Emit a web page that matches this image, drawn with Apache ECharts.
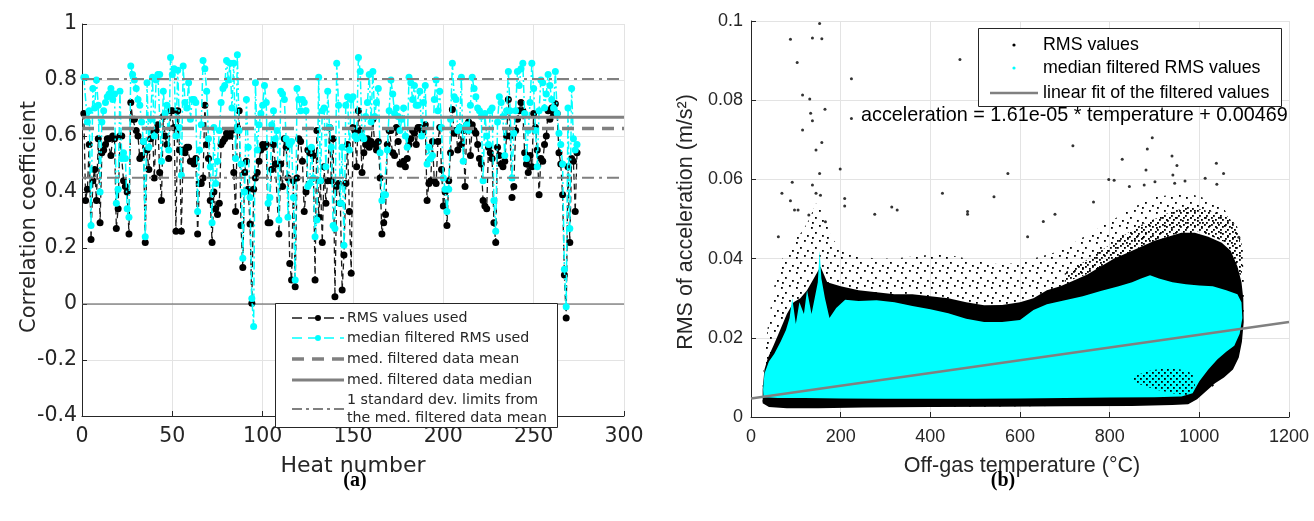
<!DOCTYPE html>
<html><head><meta charset="utf-8">
<script src="https://cdn.jsdelivr.net/npm/echarts@6/dist/echarts.min.js"></script>
<style>html,body{margin:0;padding:0;background:#fff}#c{width:1314px;height:521px}</style>
</head><body><div id="c"></div>
<script>
// ---------- Panel (a): correlation coefficient per heat ----------
const rmsUsed = [
0.68,0.37,0.41,0.57,0.23,0.44,0.48,0.37,0.59,0.29,
0.54,0.55,0.57,0.59,0.59,0.53,0.60,0.59,0.27,0.34,
0.60,0.60,0.44,0.42,0.40,0.25,0.72,0.66,0.66,0.62,
0.60,0.52,0.53,0.58,0.22,0.55,0.48,0.59,0.62,0.45,
0.62,0.64,0.47,0.37,0.67,0.60,0.57,0.52,0.69,0.69,
0.63,0.26,0.69,0.55,0.26,0.55,0.54,0.56,0.56,0.51,
0.51,0.50,0.52,0.25,0.43,0.43,0.45,0.71,0.57,0.52,
0.37,0.22,0.40,0.34,0.32,0.36,0.57,0.58,0.59,0.61,
0.60,0.60,0.62,0.47,0.33,0.63,0.69,0.28,0.13,0.47,
0.51,0.41,0.286,0.003,0.41,0.45,0.47,0.51,0.55,0.57,
0.56,0.57,0.29,0.29,0.48,0.57,0.50,0.50,
0.25,0.50,0.42,0.59,0.56,0.45,0.145,0.086,0.44,0.062,0.45,0.59,
0.58,0.51,0.33,0.40,0.55,0.54,0.55,0.53,0.086,0.62,
0.31,0.44,0.22,0.49,0.36,0.44,0.63,0.44,0.59,0.026,
0.42,0.43,0.36,0.05,0.175,0.43,0.57,0.33,0.11,0.63,
0.62,0.49,0.69,0.62,0.47,0.54,0.57,0.59,0.56,0.58,
0.66,0.57,0.55,
0.58,0.45,0.25,0.29,0.32,0.57,0.62,
0.62,0.54,0.53,0.63,0.58,0.50,0.50,0.51,0.49,0.52,
0.57,0.59,0.62,0.61,0.57,0.63,0.63,
0.62,0.63,0.64,0.37,0.43,0.44,0.58,0.44,0.43,0.58,0.63,0.48,0.35,
0.40,0.28,0.44,0.54,0.695,0.61,0.62,0.55,0.63,0.57,0.62,0.42,0.64,0.65,0.53,
0.64,0.62,0.61,0.57,0.52,0.50,0.37,0.35,0.34,0.56,0.54,0.52,0.29,0.22,0.56,
0.53,0.50,0.49,0.51,0.60,0.73,0.60,0.38,0.42,0.62,0.66,0.69,0.72,0.69,0.54,
0.50,0.47,0.53,0.49,0.68,0.63,0.55,0.39,0.52,0.51,0.57,0.60,0.69,0.66,0.70,
0.68,0.715,0.68,0.54,0.50,0.39,0.104,-0.05,0.49,0.22,0.52,0.51,0.33,0.54
];
const medFiltered = [
0.81,0.81,0.65,0.69,0.28,0.77,0.70,0.80,0.71,0.40,
0.65,0.69,0.72,0.74,0.75,0.77,0.73,0.75,0.36,0.41,
0.76,0.52,0.54,0.52,0.34,0.31,0.85,0.82,0.80,0.77,
0.73,0.71,0.65,0.58,0.24,0.79,0.56,0.66,0.81,0.60,
0.80,0.82,0.82,0.51,0.76,0.68,0.71,0.55,0.88,0.82,
0.84,0.60,0.835,0.63,0.46,0.85,0.72,0.70,0.79,0.66,
0.73,0.73,0.72,0.33,0.55,0.64,0.87,0.84,0.76,0.59,
0.49,0.29,0.63,0.43,0.51,0.62,0.72,0.77,0.78,0.87,
0.80,0.86,0.70,0.86,0.52,0.89,0.62,0.50,0.163,0.40,
0.73,0.56,0.38,0.02,-0.08,0.79,0.55,0.64,0.68,0.71,
0.78,0.72,0.36,0.38,0.64,0.69,0.59,0.62,
0.30,0.76,0.75,0.73,0.59,0.31,0.57,0.58,0.38,0.086,0.77,0.73,
0.69,0.73,0.72,0.69,0.42,0.43,0.56,0.45,0.24,0.30,
0.81,0.44,0.69,0.70,0.49,0.76,0.63,0.56,0.28,0.27,
0.86,0.71,0.36,0.56,0.21,0.71,0.74,0.55,0.73,0.74,
0.60,0.59,0.88,0.83,0.60,0.59,0.67,0.72,0.82,0.65,
0.83,0.67,0.72,
0.77,0.54,0.37,0.39,0.39,0.55,0.69,
0.80,0.75,0.68,0.70,0.67,0.62,0.66,0.70,0.60,0.56,
0.81,0.79,0.73,0.78,0.71,0.71,0.76,
0.60,0.72,0.78,0.50,0.56,0.52,0.53,0.73,0.80,0.69,0.76,0.63,0.45,
0.41,0.33,0.41,0.66,0.86,0.74,0.73,0.62,0.63,0.81,0.51,0.63,0.64,0.62,0.71,
0.81,0.77,0.74,0.70,0.69,0.67,0.44,0.68,0.60,0.57,0.69,0.70,0.37,0.26,0.65,
0.74,0.72,0.67,0.53,0.69,0.83,0.69,0.45,0.61,0.69,0.83,0.78,0.84,0.86,0.68,
0.52,0.62,0.72,0.86,0.77,0.62,0.49,0.69,0.80,0.79,0.70,0.75,0.82,0.78,0.73,
0.70,0.83,0.68,0.61,0.57,0.50,0.124,-0.01,0.70,0.27,0.77,0.59,0.55,0.57
];
const refMean = 0.627;
const refMedian = 0.667;
const refUpper = 0.804;
const refLower = 0.451;
const legendA = ["RMS values used", "median filtered RMS used", "med. filtered data mean", "med. filtered data median", "1 standard dev. limits from", "the med. filtered data mean"];

// ---------- Panel (b): RMS vs off-gas temperature ----------
// envelopes of the dense point clouds: [temperature, rms]
const cyanCloud = [[28,0.0050],[60,0.0048],[120,0.0048],[200,0.0047],[300,0.0046],[400,0.0046],[500,0.0046],[600,0.0047],[700,0.0048],[800,0.0049],[900,0.0050],[960,0.0052],[985,0.0060],[1000,0.0090],[1020,0.0120],[1040,0.0145],[1060,0.0165],[1078,0.0180],[1090,0.0210],[1096,0.0250],[1094,0.0290],[1085,0.0310],[1060,0.0320],[1030,0.0330],[1000,0.0332],[970,0.0335],[940,0.0340],[910,0.0350],[890,0.0358],[870,0.0350],[850,0.0340],[820,0.0330],[780,0.0318],[740,0.0305],[700,0.0295],[660,0.0285],[630,0.0270],[600,0.0245],[560,0.0240],[520,0.0240],[480,0.0248],[440,0.0262],[400,0.0272],[360,0.0280],[320,0.0290],[280,0.0295],[240,0.0293],[210,0.0296],[190,0.0275],[175,0.0250],[165,0.0300],[157,0.0350],[153,0.0420],[149,0.0340],[142,0.0300],[135,0.0260],[125,0.0320],[118,0.0260],[108,0.0290],[100,0.0235],[92,0.0300],[86,0.0250],[78,0.0220],[66,0.0190],[52,0.0160],[40,0.0140],[30,0.0110],[27,0.0070]];
const blackCore = [[26,0.0035],[40,0.0025],[80,0.0022],[150,0.0022],[250,0.0024],[400,0.0025],[550,0.0026],[700,0.0027],[850,0.0028],[940,0.0030],[975,0.0032],[995,0.0045],[1015,0.0065],[1035,0.0085],[1055,0.0100],[1075,0.0120],[1088,0.0150],[1095,0.0190],[1099,0.0240],[1098,0.0300],[1094,0.0340],[1085,0.0380],[1070,0.0420],[1050,0.0440],[1020,0.0455],[990,0.0465],[960,0.0465],[930,0.0455],[900,0.0445],[870,0.0430],[840,0.0415],[810,0.0400],[780,0.0380],[750,0.0360],[720,0.0345],[690,0.0330],[660,0.0320],[630,0.0300],[600,0.0290],[560,0.0283],[520,0.0282],[480,0.0290],[440,0.0300],[400,0.0305],[360,0.0310],[320,0.0310],[280,0.0315],[240,0.0320],[200,0.0330],[170,0.0340],[155,0.0380],[140,0.0350],[125,0.0320],[110,0.0300],[95,0.0290],[80,0.0260],[65,0.0220],[50,0.0180],[38,0.0150],[30,0.0120],[26,0.0070]];
const blackMid = [[700,0.0340],[760,0.0365],[820,0.0405],[880,0.0435],[940,0.0460],[1000,0.0470],[1060,0.0440],[1094,0.0350],[1098,0.0420],[1085,0.0480],[1060,0.0510],[1020,0.0520],[980,0.0530],[940,0.0520],[900,0.0500],[860,0.0480],[820,0.0450],[780,0.0420],[740,0.0390],[700,0.0365]];
const blackSparse = [[26,0.0035],[40,0.0025],[500,0.0025],[975,0.0032],[1040,0.0085],[1095,0.0190],[1101,0.0300],[1098,0.0380],[1090,0.0450],[1075,0.0500],[1050,0.0530],[1020,0.0550],[990,0.0560],[960,0.0565],[930,0.0560],[900,0.0555],[870,0.0540],[840,0.0520],[810,0.0500],[780,0.0480],[750,0.0460],[720,0.0440],[690,0.0420],[660,0.0410],[630,0.0400],[600,0.0390],[560,0.0385],[520,0.0390],[480,0.0400],[440,0.0410],[400,0.0410],[360,0.0405],[320,0.0400],[280,0.0400],[240,0.0405],[210,0.0420],[180,0.0450],[160,0.0520],[145,0.0540],[130,0.0500],[115,0.0470],[100,0.0450],[85,0.0420],[70,0.0400],[55,0.0350],[40,0.0250],[30,0.0160],[26,0.0080]];
const blackPatch = [[850,0.0100],[880,0.0115],[920,0.0123],[960,0.0120],[985,0.0110],[990,0.0080],[975,0.0055],[940,0.0060],[900,0.0070],[860,0.0085]];
const outlierPoints = [[153,0.0994],[88,0.0954],[137,0.0957],[158,0.0955],[103,0.0895],[466,0.0903],[224,0.0854],[115,0.0813],[131,0.0803],[165,0.0777],[133,0.0767],[137,0.0748],[224,0.0754],[115,0.0725],[895,0.0705],[158,0.0693],[145,0.0674],[153,0.0615],[92,0.0593],[199,0.0626],[69,0.0565],[137,0.0586],[145,0.0565],[155,0.0560],[88,0.0546],[97,0.0523],[105,0.0523],[129,0.0510],[166,0.0493],[61,0.0455],[209,0.0552],[209,0.0533],[276,0.0512],[314,0.0530],[326,0.0523],[427,0.0565],[483,0.0519],[483,0.0512],[573,0.0615],[542,0.0556],[718,0.0685],[828,0.0651],[884,0.0677],[939,0.0659],[950,0.0635],[1038,0.0641],[1054,0.0615],[881,0.0624],[901,0.0594],[877,0.0586],[941,0.0611],[798,0.0600],[810,0.0598],[1013,0.0603],[1039,0.0588],[945,0.0590],[968,0.0596],[844,0.0582],[764,0.0543],[678,0.0512],[652,0.0494],[617,0.0455],[1088,0.0454],[1080,0.0360]];
const fitLine = [[0,0.00469],[1200,0.02401]];
const fitLabel = "acceleration = 1.61e-05 * temperature + 0.00469";
const legendB = ["RMS values", "median filtered RMS values", "linear fit of the filtered values"];

// ---------- build ----------
const FA = "'DejaVu Sans', Verdana, sans-serif";
const FB = "'Liberation Sans', Arial, sans-serif";
const AX = '#262626';
const GRIDC = '#e3e3e3';

function makePattern(size, dots) {
  const c = document.createElement('canvas');
  c.width = size; c.height = size;
  const g = c.getContext('2d');
  g.fillStyle = '#000';
  dots.forEach(d => g.fillRect(d[0], d[1], 1.8, 1.8));
  return { image: c, repeat: 'repeat' };
}
const sparseFill = makePattern(15, [[1,2],[9,0],[5,7],[12,10],[2,12]]);
const midFill = makePattern(7, [[0,0],[4,2],[2,5]]);
const patchFill = makePattern(6, [[0,0],[3,3]]);

function polySeries(points, fill, z) {
  return {
    type: 'custom', xAxisIndex: 1, yAxisIndex: 1, data: [0], silent: true, z: z,
    renderItem: (params, api) => ({
      type: 'polygon',
      shape: { points: points.map(p => api.coord(p)) },
      style: { fill: fill, stroke: null }
    })
  };
}
function hline(val, style, z) {
  return {
    type: 'line', xAxisIndex: 0, yAxisIndex: 0, data: [[0, val], [300, val]],
    symbol: 'none', silent: true, z: z, lineStyle: style, animation: false
  };
}
function onTop(list) { return list.map(e => Object.assign({ z: 200, zlevel: 1 }, e)); }

const blackData = rmsUsed.map((v, i) => [i + 1, v]);
const cyanData = medFiltered.map((v, i) => [i + 1, v]);

function axisCommon() {
  return {
    type: 'value',
    axisLine: { show: true, onZero: false, lineStyle: { color: AX, width: 1 } },
    axisTick: { show: true, inside: true, length: 5, lineStyle: { color: AX } },
    splitLine: { show: true, lineStyle: { color: GRIDC, width: 1 } }
  };
}

const option = {
  animation: false,
  backgroundColor: '#fff',
  grid: [
    { left: 82, top: 24, width: 542, height: 392, outerBoundsMode: 'none' },
    { left: 751, top: 21, width: 538, height: 396, outerBoundsMode: 'none' }
  ],
  xAxis: [
    Object.assign(axisCommon(), { gridIndex: 0, min: 0, max: 300, interval: 50,
      axisLabel: { color: AX, fontFamily: FA, fontSize: 20.5, margin: 10 } }),
    Object.assign(axisCommon(), { gridIndex: 1, min: 0, max: 1200, interval: 200,
      axisLabel: { color: AX, fontFamily: FB, fontSize: 18, margin: 11, formatter: v => String(v) } })
  ],
  yAxis: [
    Object.assign(axisCommon(), { gridIndex: 0, min: -0.4, max: 1, interval: 0.2,
      axisLabel: { color: AX, fontFamily: FA, fontSize: 20.5, margin: 5, formatter: v => String(+v.toFixed(1)) } }),
    Object.assign(axisCommon(), { gridIndex: 1, min: 0, max: 0.1, interval: 0.02,
      axisLabel: { color: AX, fontFamily: FB, fontSize: 18, margin: 8, formatter: v => String(+v.toFixed(2)) } })
  ],
  series: [
    // panel a
    hline(0, { color: '#555', width: 1 }, 1),
    {
      type: 'line', xAxisIndex: 0, yAxisIndex: 0, data: blackData, z: 2,
      symbol: 'circle', symbolSize: 7, showAllSymbol: true, silent: true,
      itemStyle: { color: '#000' },
      lineStyle: { color: '#1a1a1a', width: 1.3, type: [6, 4] }
    },
    {
      type: 'line', xAxisIndex: 0, yAxisIndex: 0, data: cyanData, z: 3,
      symbol: 'circle', symbolSize: 7, showAllSymbol: true, silent: true,
      itemStyle: { color: '#00ffff' },
      lineStyle: { color: '#00ffff', width: 1.5, type: [8, 3, 2, 3] }
    },
    hline(refMedian, { color: '#808080', width: 3 }, 5),
    hline(refMean, { color: '#808080', width: 3.5, type: [12, 8] }, 5),
    hline(refUpper, { color: '#808080', width: 2, type: [12, 5, 3, 5] }, 5),
    hline(refLower, { color: '#808080', width: 2, type: [12, 5, 3, 5] }, 5),
    // panel b
    polySeries(blackSparse, sparseFill, 1),
    polySeries(blackMid, midFill, 2),
    polySeries(blackCore, '#000', 3),
    polySeries(cyanCloud, '#00ffff', 4),
    polySeries(blackPatch, patchFill, 5),
    {
      type: 'scatter', xAxisIndex: 1, yAxisIndex: 1, data: outlierPoints, z: 6,
      symbol: 'circle', symbolSize: 3, silent: true, itemStyle: { color: '#000' }
    },
    {
      type: 'line', xAxisIndex: 1, yAxisIndex: 1, data: fitLine, z: 7, symbol: 'none', silent: true,
      lineStyle: { color: '#808080', width: 2.5 }
    }
  ],
  graphic: onTop([
    // axis titles
    { type: 'text', x: 30, y: 217, rotation: Math.PI / 2, style: { text: 'Correlation coefficient', font: '21px ' + FA, fill: AX, align: 'center', verticalAlign: 'middle' } },
    { type: 'text', x: 353, y: 466, style: { text: 'Heat number', font: '22px ' + FA, fill: AX, align: 'center', verticalAlign: 'middle' } },
    { type: 'text', x: 686, y: 222, rotation: Math.PI / 2, style: { text: 'RMS of acceleration (m/s²)', font: '21.5px ' + FB, fill: AX, align: 'center', verticalAlign: 'middle' } },
    { type: 'text', x: 1022, y: 466, style: { text: 'Off-gas temperature (°C)', font: '21.5px ' + FB, fill: AX, align: 'center', verticalAlign: 'middle' } },
    // captions
    { type: 'text', x: 355, y: 481, style: { text: '(a)', font: 'bold 20px "Liberation Serif", "Times New Roman", serif', fill: '#000', align: 'center', verticalAlign: 'middle' } },
    { type: 'text', x: 1003, y: 481, style: { text: '(b)', font: 'bold 20px "Liberation Serif", "Times New Roman", serif', fill: '#000', align: 'center', verticalAlign: 'middle' } },
    // legend a
    { type: 'rect', shape: { x: 275.5, y: 303.5, width: 282, height: 124 }, style: { fill: '#fff', stroke: AX, lineWidth: 1 } },
    { type: 'line', shape: { x1: 292, y1: 318, x2: 344, y2: 318 }, style: { stroke: '#1a1a1a', lineWidth: 1.3, lineDash: [10, 6] } },
    { type: 'circle', shape: { cx: 318, cy: 318, r: 3 }, style: { fill: '#000' } },
    { type: 'line', shape: { x1: 292, y1: 338, x2: 344, y2: 338 }, style: { stroke: '#00ffff', lineWidth: 1.5, lineDash: [10, 6] } },
    { type: 'circle', shape: { cx: 318, cy: 338, r: 3 }, style: { fill: '#00ffff' } },
    { type: 'line', shape: { x1: 292, y1: 359, x2: 344, y2: 359 }, style: { stroke: '#808080', lineWidth: 3.5, lineDash: [12, 8] } },
    { type: 'line', shape: { x1: 292, y1: 380, x2: 344, y2: 380 }, style: { stroke: '#808080', lineWidth: 3 } },
    { type: 'line', shape: { x1: 292, y1: 409, x2: 344, y2: 409 }, style: { stroke: '#808080', lineWidth: 2, lineDash: [10, 4, 3, 4] } },
    { type: 'text', x: 347, y: 318, style: { text: legendA[0], font: '14.2px ' + FA, fill: AX, verticalAlign: 'middle' } },
    { type: 'text', x: 347, y: 338, style: { text: legendA[1], font: '14.2px ' + FA, fill: AX, verticalAlign: 'middle' } },
    { type: 'text', x: 347, y: 359, style: { text: legendA[2], font: '14.2px ' + FA, fill: AX, verticalAlign: 'middle' } },
    { type: 'text', x: 347, y: 380, style: { text: legendA[3], font: '14.2px ' + FA, fill: AX, verticalAlign: 'middle' } },
    { type: 'text', x: 347, y: 400, style: { text: legendA[4], font: '14.2px ' + FA, fill: AX, verticalAlign: 'middle' } },
    { type: 'text', x: 347, y: 418, style: { text: legendA[5], font: '14.2px ' + FA, fill: AX, verticalAlign: 'middle' } },
    // legend b
    { type: 'rect', shape: { x: 978.5, y: 28.5, width: 303, height: 78 }, style: { fill: '#fff', stroke: AX, lineWidth: 1 } },
    { type: 'circle', shape: { cx: 1014, cy: 45, r: 1.6 }, style: { fill: '#000' } },
    { type: 'circle', shape: { cx: 1014, cy: 68, r: 1.6 }, style: { fill: '#00ffff' } },
    { type: 'line', shape: { x1: 990, y1: 93, x2: 1038, y2: 93 }, style: { stroke: '#808080', lineWidth: 2.5 } },
    { type: 'text', x: 1043, y: 45, style: { text: legendB[0], font: '17.8px ' + FB, fill: '#000', verticalAlign: 'middle' } },
    { type: 'text', x: 1043, y: 68, style: { text: legendB[1], font: '17.8px ' + FB, fill: '#000', verticalAlign: 'middle' } },
    { type: 'text', x: 1043, y: 93, style: { text: legendB[2], font: '17.8px ' + FB, fill: '#000', verticalAlign: 'middle' } },
    { type: 'text', x: 861, y: 116, style: { text: fitLabel, font: '19.8px ' + FB, fill: '#000', verticalAlign: 'middle' } }
  ])
};

const chart = echarts.init(document.getElementById('c'), null, { renderer: 'canvas', width: 1314, height: 521 });
chart.setOption(option);
</script>
</body></html>
